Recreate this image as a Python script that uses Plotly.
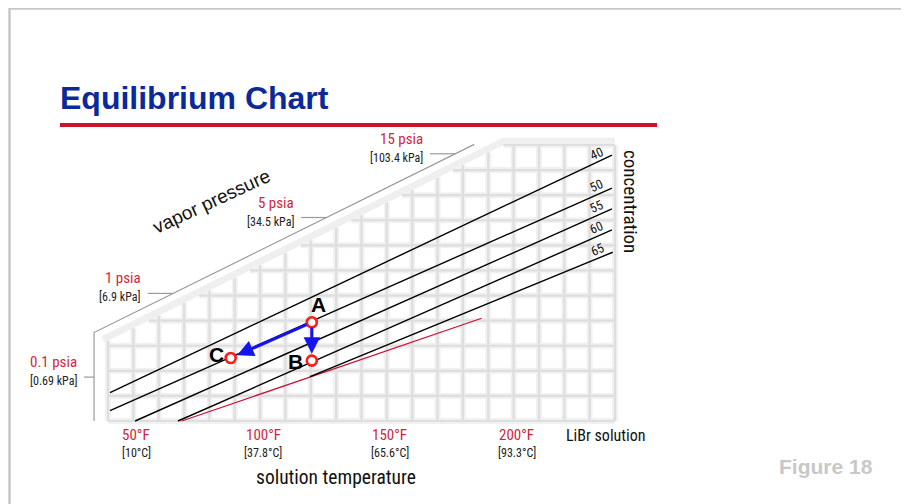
import plotly.graph_objects as go

# ---------------- data ----------------
temp_ticks_F = [50, 100, 150, 200]
temp_tick_labels = ["50°F", "100°F", "150°F", "200°F"]
temp_tick_celsius = ["[10°C]", "[37.8°C]", "[65.6°C]", "[93.3°C]"]

pressure_psia_labels = ["0.1 psia", "1 psia", "5 psia", "15 psia"]
pressure_kpa_labels = ["[0.69 kPa]", "[6.9 kPa]", "[34.5 kPa]", "[103.4 kPa]"]
pressure_sat_temp_F = [35.0, 101.7, 162.2, 213.0]

conc_labels = ["40", "50", "55", "60", "65"]
conc_T_start = [40.8, 40.8, 50.7, 67.6, 119.7]
conc_Tr_start = [22.6, 8.2, 0.0, 0.0, 35.3]
conc_T_end = [238.8, 238.8, 238.8, 238.8, 239.1]
conc_Tr_end = [212.0, 185.7, 169.0, 152.3, 134.5]

cryst_T = [69.1, 187.4]
cryst_Tr = [0.0, 81.9]

state_names = ["A", "B", "C"]
state_T = [120.4, 120.4, 88.4]
state_Tr = [78.7, 48.1, 50.2]

grid_T = list(range(40, 241, 10))
grid_Tr = list(range(0, 221, 20))

# ---------------- geometry / style ----------------
OFF = 8                      # page body margin
W, H = 909 - OFF, 504 - OFF
XR = [0.552, 355.98]
YR = [-66.16, 329.2]
ENV = 24.0        # grid envelope offset (Tr = T + ENV)
PAX = 36.0        # vapour-pressure axis offset (Tr = T + PAX)
PAX_T0 = 34.5     # vertical part of pressure axis
RED = "#d21f3c"
NARROW = "Liberation Sans Narrow, Arial Narrow, Roboto Condensed, Liberation Sans, Arial, sans-serif"
SANS = "Liberation Sans, Arial, sans-serif"

def px(x):
    return (x - OFF) / W

def py(y):
    return 1 - (y - OFF) / H

fig = go.Figure()

# pale band along the stepped top of the grid
fig.add_trace(go.Scatter(x=[38, 196, 240], y=[38 + ENV + 3, 220 + 3, 223],
                         mode="lines", line=dict(color="#efefef", width=7),
                         hoverinfo="skip", showlegend=False))

# grid
gx, gy = [], []
for t in grid_T:
    gx += [t, t, None]
    gy += [0, min(220, t + ENV), None]
for r in grid_Tr:
    gx += [max(40, r - ENV), 240, None]
    gy += [r, r, None]
fig.add_trace(go.Scatter(x=gx, y=gy, mode="lines",
                         line=dict(color="#f1f1f1", width=6),
                         hoverinfo="skip", showlegend=False))
fig.add_trace(go.Scatter(x=gx, y=gy, mode="lines",
                         line=dict(color="#dedede", width=2.2),
                         hoverinfo="skip", showlegend=False))

# vapour pressure axis
ax_top_T = 220.5 - PAX
fig.add_trace(go.Scatter(x=[PAX_T0, PAX_T0, ax_top_T],
                         y=[0, PAX_T0 + PAX, 220.5], mode="lines",
                         line=dict(color="#9a9a9a", width=1.2),
                         hoverinfo="skip", showlegend=False))
lx, ly = [], []
for p_lab, k_lab, tr in zip(pressure_psia_labels, pressure_kpa_labels, pressure_sat_temp_F):
    t_end = max(PAX_T0, tr - PAX)
    t_start = t_end - (10 if t_end > PAX_T0 else 4)
    lx += [t_start, t_end, None]
    ly += [tr, tr, None]
    fig.add_annotation(x=t_start, y=tr, xref="x", yref="y", text=p_lab,
                       showarrow=False, xanchor="right", yanchor="middle",
                       xshift=-5, yshift=15,
                       font=dict(family=NARROW, size=15, color=RED))
    fig.add_annotation(x=t_start, y=tr, xref="x", yref="y", text=k_lab,
                       showarrow=False, xanchor="right", yanchor="middle",
                       xshift=-5, yshift=-4,
                       font=dict(family=NARROW, size=12, color="#222222"))
fig.add_trace(go.Scatter(x=lx, y=ly, mode="lines",
                         line=dict(color="#9a9a9a", width=1.2),
                         hoverinfo="skip", showlegend=False))

# crystallisation line
fig.add_trace(go.Scatter(x=cryst_T, y=cryst_Tr, mode="lines",
                         line=dict(color="#cc1133", width=1.2),
                         hoverinfo="skip", showlegend=False))

# concentration lines
for lab, t0, r0, t1, r1 in zip(conc_labels, conc_T_start, conc_Tr_start, conc_T_end, conc_Tr_end):
    fig.add_trace(go.Scatter(x=[t0, t1], y=[r0, r1], mode="lines",
                             line=dict(color="#000000", width=1.4),
                             hoverinfo="skip", showlegend=False))
    tl = t1 - 6
    rl = r0 + (r1 - r0) * (tl - t0) / (t1 - t0)
    fig.add_annotation(x=tl, y=rl, xref="x", yref="y", text=lab, showarrow=False,
                       xanchor="center", yanchor="middle",
                       textangle=-24, yshift=9,
                       font=dict(family=NARROW, size=13, color="#111111"))

# process arrows A->C and A->B
for tgt in (2, 1):
    fig.add_annotation(x=state_T[tgt], y=state_Tr[tgt], ax=state_T[0], ay=state_Tr[0],
                       xref="x", yref="y", axref="x", ayref="y", text="",
                       showarrow=True, arrowhead=2, arrowsize=1.1, arrowwidth=3,
                       arrowcolor="#1414f0", standoff=7, startstandoff=4)

# state points
fig.add_trace(go.Scatter(x=state_T, y=state_Tr, mode="markers",
                         marker=dict(size=10, color="white",
                                     line=dict(color="#ff1a1a", width=2.6)),
                         hoverinfo="skip", showlegend=False))
shifts = {"A": (7, 18), "B": (-16, -1), "C": (-14, 4)}
for n, t, r in zip(state_names, state_T, state_Tr):
    fig.add_annotation(x=t, y=r, xref="x", yref="y", text=f"<b>{n}</b>",
                       showarrow=False, xanchor="center", yanchor="middle",
                       xshift=shifts[n][0], yshift=shifts[n][1],
                       font=dict(family=SANS, size=21, color="#000000"))

# temperature tick labels
for t, lab, cl in zip(temp_ticks_F, temp_tick_labels, temp_tick_celsius):
    fig.add_annotation(x=t, y=py(435), xref="x", yref="paper", text=lab, showarrow=False,
                       xanchor="center", yanchor="middle",
                       xshift=3, font=dict(family=NARROW, size=15, color=RED))
    fig.add_annotation(x=t, y=py(453), xref="x", yref="paper", text=cl, showarrow=False,
                       xanchor="center", yanchor="middle",
                       xshift=3, font=dict(family=NARROW, size=12, color="#222222"))

# static text
texts = [
    ("LiBr solution", 605, 435, 16, "#111111", NARROW, 0),
    ("solution temperature", 336, 477, 19.5, "#111111", NARROW, 0),
    ("vapor pressure", 211, 201, 19, "#111111", SANS, -25),
    ("concentration", 631, 201, 19, "#111111", NARROW, 90),
]
for s, x, y, sz, c, fam, ang in texts:
    fig.add_annotation(x=px(x), y=py(y), xref="paper", yref="paper", text=s,
                       showarrow=False, textangle=ang, xanchor="center", yanchor="middle",
                       font=dict(family=fam, size=sz, color=c))

fig.add_annotation(x=px(58), y=py(98), xref="paper", yref="paper",
                   text="<b>Equilibrium Chart</b>", showarrow=False,
                   xanchor="left", yanchor="middle",
                   font=dict(family=SANS, size=32, color="#0a2a9a"))
fig.add_annotation(x=px(826), y=py(466), xref="paper", yref="paper",
                   text="<b>Figure 18</b>", showarrow=False,
                   xanchor="center", yanchor="middle",
                   font=dict(family=SANS, size=21, color="#c8c8c8"))

# frame and title rule
fig.add_shape(type="rect", xref="paper", yref="paper", x0=px(9.5), x1=px(905),
              y0=-0.1, y1=py(8.5), line=dict(color="#c8c8c8", width=2.5), layer="below")
fig.add_shape(type="rect", xref="paper", yref="paper", x0=px(60), x1=px(657),
              y0=py(127), y1=py(123), line=dict(width=0), fillcolor="#d0102c")

fig.update_layout(width=W, height=H, margin=dict(l=0, r=0, t=0, b=0),
                  paper_bgcolor="white", plot_bgcolor="white",
                  xaxis=dict(range=XR, visible=False, fixedrange=True),
                  yaxis=dict(range=YR, visible=False, fixedrange=True),
                  showlegend=False)

fig.write_html("out.html")
